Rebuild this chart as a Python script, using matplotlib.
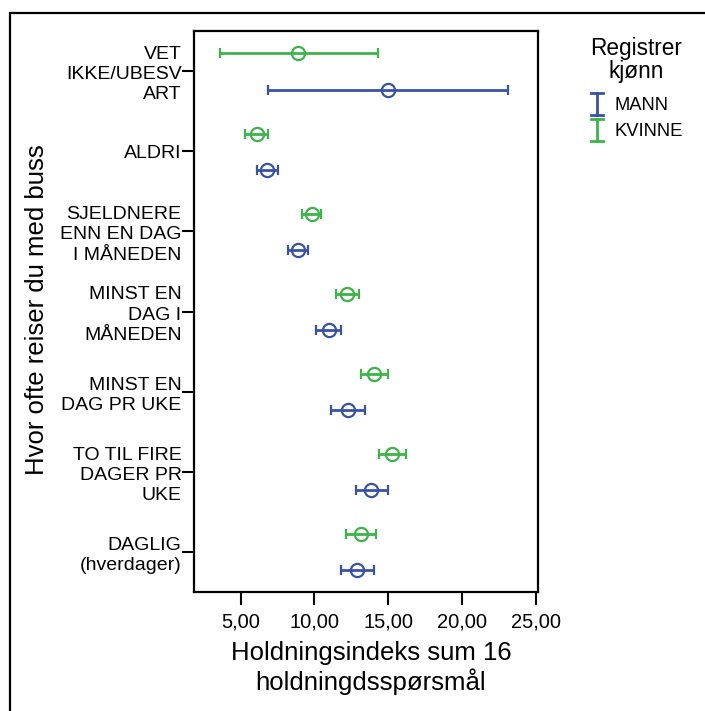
import matplotlib
matplotlib.use("Agg")
import matplotlib.pyplot as plt
from matplotlib.lines import Line2D
from matplotlib.patches import Rectangle

plt.rcParams['font.family'] = ['Liberation Sans', 'DejaVu Sans']

categories = ["VET\nIKKE/UBESV\nART", "ALDRI", "SJELDNERE\nENN EN DAG\nI MÅNEDEN",
              "MINST EN\nDAG I\nMÅNEDEN", "MINST EN\nDAG PR UKE",
              "TO TIL FIRE\nDAGER PR\nUKE", "DAGLIG\n(hverdager)"]

mann_mean = [15.00, 6.78, 8.88, 10.96, 12.27, 13.85, 12.88]
mann_low = [6.87, 6.08, 8.18, 10.10, 11.12, 12.79, 11.80]
mann_high = [23.13, 7.53, 9.58, 11.82, 13.40, 14.96, 14.01]

kvinne_mean = [8.90, 6.08, 9.81, 12.22, 14.05, 15.25, 13.15]
kvinne_low = [3.60, 5.29, 9.17, 11.46, 13.13, 14.35, 12.15]
kvinne_high = [14.28, 6.83, 10.46, 12.99, 15.00, 16.20, 14.17]

x_ticks = [5, 10, 15, 20, 25]
x_tick_labels = ["5,00", "10,00", "15,00", "20,00", "25,00"]

blue = "#3953a4"
green = "#3cb44a"

W, H = 705, 711


def fx(px):
    return px / W


def fy(py):
    return 1 - py / H


fig = plt.figure(figsize=(W / 100, H / 100), dpi=100)
ax = fig.add_axes([fx(194), fy(592), (538 - 194) / W, (592 - 31) / H])

pos = list(range(len(categories)))


def draw(means, lows, highs, offset, color):
    y = [p + offset for p in pos]
    err = [[m - l for m, l in zip(means, lows)], [h - m for m, h in zip(means, highs)]]
    ax.errorbar(means, y, xerr=err, fmt='o', color=color, mfc='none', mec=color,
                ms=9.5, mew=1.6, elinewidth=2.0, capsize=3.6, capthick=2.0)


draw(kvinne_mean, kvinne_low, kvinne_high, -0.22, green)
draw(mann_mean, mann_low, mann_high, 0.23, blue)

ax.set_xlim(1.84, 25.15)
ax.set_ylim(6.5, -0.5)
ax.set_xticks(x_ticks)
ax.set_xticklabels(x_tick_labels, fontsize=14.5)
ax.set_yticks(pos)
ax.set_yticklabels(categories, fontsize=14, linespacing=1.25)
for t in ax.get_yticklabels():
    t.set_multialignment('right')
ax.tick_params(axis='y', length=9, width=1.5, pad=0)
ax.tick_params(axis='x', length=9, width=1.5, pad=6)
for s in ax.spines.values():
    s.set_linewidth(1.6)

fig.text(fx(37), fy(310), "Hvor ofte reiser du med buss", rotation=90,
         ha='center', va='center', fontsize=18.5)
fig.text(fx(371), fy(668), "Holdningsindeks sum 16\nholdningdsspørsmål",
         ha='center', va='center', fontsize=18.5, linespacing=1.15)

# legend
fig.text(fx(636), fy(60), "Registrer\nkjønn", ha='center', va='center',
         fontsize=16.3, linespacing=1.05)
for (label, color, yc) in [("MANN", blue, 104), ("KVINNE", green, 130)]:
    fig.add_artist(Line2D([fx(597), fx(597)], [fy(yc - 11), fy(yc + 11)],
                          color=color, lw=2.0))
    for yy in (yc - 11, yc + 11):
        fig.add_artist(Line2D([fx(591), fx(603)], [fy(yy), fy(yy)],
                              color=color, lw=2.0))
    fig.text(fx(615), fy(yc + 1), label, ha='left', va='center', fontsize=13.2)

# outer frame
fig.add_artist(Rectangle((fx(10), fy(740)), fx(760), (740 - 13) / H, fill=False,
                         lw=1.6, ec='black', transform=fig.transFigure))

fig.savefig("out.png", dpi=100)
